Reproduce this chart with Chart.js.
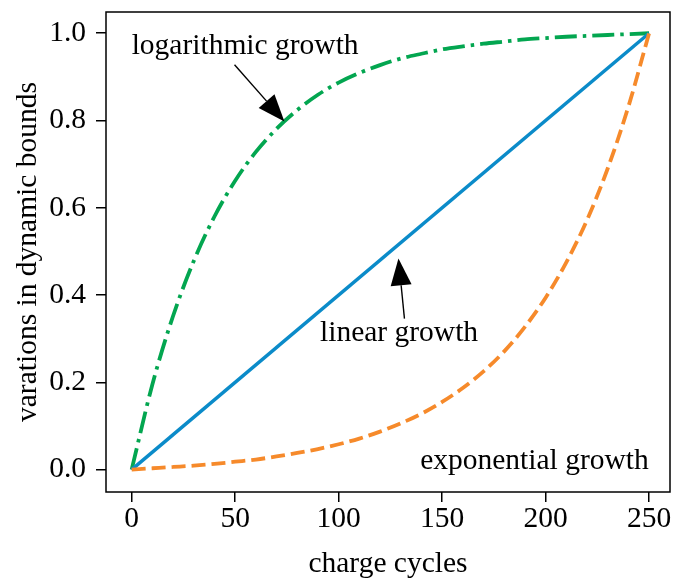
<!DOCTYPE html>
<html>
<head>
<meta charset="utf-8">
<script src="https://cdn.jsdelivr.net/npm/chart.js@4.4.1/dist/chart.umd.min.js"></script>
<style>
  body { margin: 0; background: #fff; }
  #wrap { width: 674px; height: 579px; }
</style>
</head>
<body>
<div id="wrap"><canvas id="myChart" width="674" height="579"></canvas></div>
<script>
// charge cycle samples
var cycles = [0, 10, 20, 30, 40, 50, 60, 70, 80, 90, 100, 110, 120, 130, 140, 150, 160, 170, 180, 190, 200, 210, 220, 230, 240, 250];

var logGrowth = [0, 0.195, 0.352, 0.478, 0.58, 0.662, 0.728, 0.781, 0.824, 0.859, 0.887, 0.909, 0.927, 0.942, 0.953, 0.963, 0.97, 0.976, 0.981, 0.986, 0.989, 0.992, 0.994, 0.996, 0.998, 1.0];
var expGrowth = [0, 0.003, 0.006, 0.009, 0.013, 0.018, 0.023, 0.03, 0.038, 0.047, 0.058, 0.071, 0.087, 0.106, 0.128, 0.155, 0.187, 0.225, 0.271, 0.327, 0.394, 0.475, 0.572, 0.69, 0.832, 1.0];

var linearX = [0, 250];
var linearY = [0, 1];

var xTicks = [0, 50, 100, 150, 200, 250];
var yTicks = [0, 0.2, 0.4, 0.6, 0.8, 1.0];

var serif = "'Liberation Serif', 'Times New Roman', serif";

function pts(xs, ys) {
    return xs.map(function(x, i) { return { x: x, y: ys[i] }; });
}

// text labels with arrows, in data units
var notes = [
    { text: 'logarithmic growth', x: 0, y: 0.971, tail: [49.7, 0.928], tip: [73.8, 0.798] },
    { text: 'linear growth', x: 91, y: 0.312, tail: [131.8, 0.346], tip: [128.9, 0.484] },
    { text: 'exponential growth', x: 139.4, y: 0.019 }
];

var annotate = {
    id: 'annotate',
    afterDraw: function(chart) {
        var c = chart.ctx, xs = chart.scales.x, ys = chart.scales.y, a = chart.chartArea;
        c.save();
        // frame
        c.strokeStyle = '#000';
        c.lineWidth = 1.5;
        c.strokeRect(a.left, a.top, a.right - a.left, a.bottom - a.top);

        c.font = '29.5px ' + serif;
        c.fillStyle = '#000';
        c.textBaseline = 'middle';
        c.textAlign = 'left';
        notes.forEach(function(n) {
            c.fillText(n.text, xs.getPixelForValue(n.x), ys.getPixelForValue(n.y));
            if (!n.tail) return;
            var x0 = xs.getPixelForValue(n.tail[0]), y0 = ys.getPixelForValue(n.tail[1]);
            var x1 = xs.getPixelForValue(n.tip[0]), y1 = ys.getPixelForValue(n.tip[1]);
            var ang = Math.atan2(y1 - y0, x1 - x0);
            var hl = 27, hw = 10.5;
            var bx = x1 - hl * Math.cos(ang), by = y1 - hl * Math.sin(ang);
            c.lineWidth = 1.4;
            c.beginPath();
            c.moveTo(x0, y0);
            c.lineTo(bx, by);
            c.stroke();
            c.beginPath();
            c.moveTo(x1, y1);
            c.lineTo(bx + hw * Math.sin(ang), by - hw * Math.cos(ang));
            c.lineTo(bx - hw * Math.sin(ang), by + hw * Math.cos(ang));
            c.closePath();
            c.fill();
        });
        c.restore();
    }
};

var ctx = document.getElementById("myChart");
var myChart = new Chart(ctx, {
    type: 'scatter',
    data: {
        datasets: [
            {
                label: 'exponential growth',
                data: pts(cycles, expGrowth),
                borderColor: '#f68a2b',
                borderWidth: 3.8,
                borderDash: [14, 6],
                order: 1
            },
            {
                label: 'linear growth',
                data: pts(linearX, linearY),
                borderColor: '#0b8bc9',
                borderWidth: 3.5,
                order: 2
            },
            {
                label: 'logarithmic growth',
                data: pts(cycles, logGrowth),
                borderColor: '#03a650',
                borderWidth: 3.8,
                borderDash: [22, 6, 3.5, 6],
                order: 3
            }
        ]
    },
    options: {
        responsive: false,
        animation: false,
        showLine: true,
        layout: { padding: { top: 12, right: 4, left: 0, bottom: 0 } },
        elements: {
            point: { radius: 0, hoverRadius: 0 },
            line: { cubicInterpolationMode: 'monotone', borderCapStyle: 'butt', fill: false }
        },
        plugins: {
            legend: { display: false },
            tooltip: { enabled: false }
        },
        scales: {
            x: {
                type: 'linear',
                min: -12.4,
                max: 260.1,
                afterBuildTicks: function(s) { s.ticks = xTicks.map(function(v) { return { value: v }; }); },
                afterFit: function(s) { s.height = 87; s.paddingLeft = 0; s.paddingRight = 0; },
                border: { display: false },
                grid: { drawOnChartArea: false, drawTicks: true, tickLength: 10, color: '#000', lineWidth: 1.5 },
                ticks: {
                    color: '#000',
                    padding: 0,
                    autoSkip: false,
                    maxRotation: 0,
                    font: { family: serif, size: 29.5 }
                },
                title: {
                    display: true,
                    text: 'charge cycles',
                    color: '#000',
                    padding: { top: 0, bottom: 0 },
                    font: { family: serif, size: 29.5, lineHeight: 1 }
                }
            },
            y: {
                type: 'linear',
                min: -0.0514,
                max: 1.0487,
                afterBuildTicks: function(s) { s.ticks = yTicks.map(function(v) { return { value: v }; }); },
                afterFit: function(s) { s.width = 106; s.paddingTop = 0; s.paddingBottom = 0; },
                border: { display: false },
                grid: { drawOnChartArea: false, drawTicks: true, tickLength: 10, color: '#000', lineWidth: 1.5 },
                ticks: {
                    color: '#000',
                    padding: 10,
                    autoSkip: false,
                    font: { family: serif, size: 29.5 },
                    callback: function(v) { return v.toFixed(1); }
                },
                title: {
                    display: true,
                    text: 'varations in dynamic bounds',
                    color: '#000',
                    padding: { top: 13, bottom: 0 },
                    font: { family: serif, size: 29.5, lineHeight: 1 }
                }
            }
        }
    },
    plugins: [annotate]
});
</script>
</body>
</html>
